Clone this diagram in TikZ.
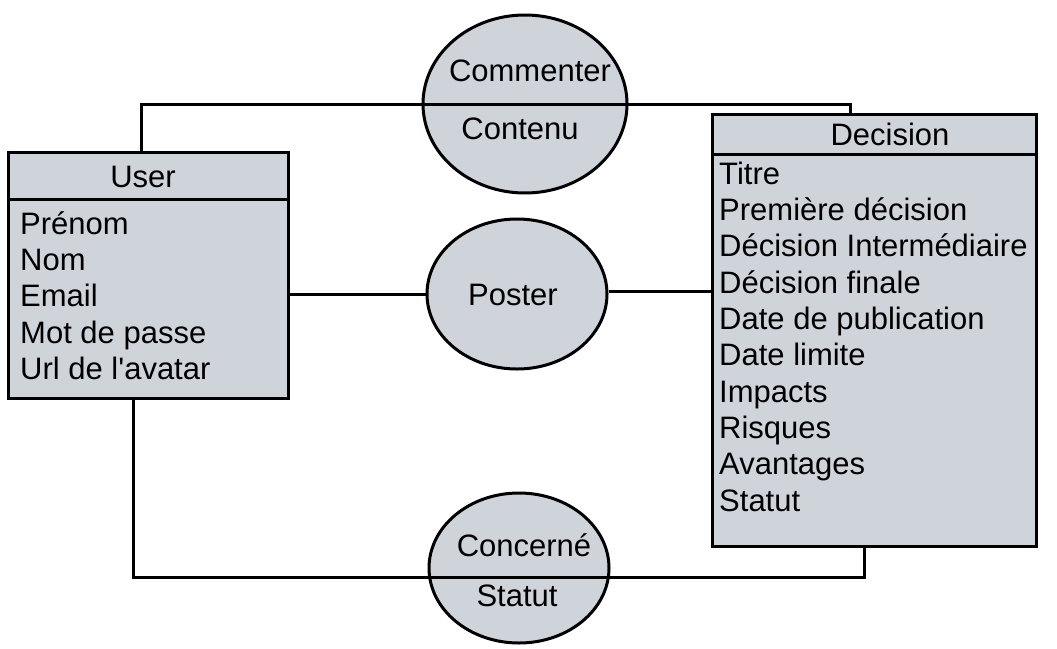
\documentclass[tikz,border=0pt]{standalone}
\usepackage{fontspec}
\setmainfont{Liberation Sans}[Ligatures=TeXOff]
\usetikzlibrary{shapes.geometric, calc}
\definecolor{boxgray}{RGB}{207,212,219}
\tikzset{entity/.style = {draw, fill=boxgray, line width=3pt, inner sep=0pt}}
\tikzset{assoc/.style = {ellipse, draw, fill=boxgray, line width=3pt, inner sep=0pt}}
\tikzset{link/.style = {line width=3pt}}
\tikzset{label/.style = {font=\fontsize{31}{36}\selectfont, inner sep=0pt}}
\tikzset{attr/.style = {label, anchor=base west}}

\begin{document}
\begin{tikzpicture}[x=1pt, y=-1pt]
\useasboundingbox (0,0) rectangle (1057,648);
% entities
\node[entity, minimum width=280pt, minimum height=246pt] (user) at (148,275) {};
\node[entity, minimum width=324pt, minimum height=432pt] (decision) at (874,330) {};
\draw[link] (8,199) -- (288,199);
\draw[link] (712,154) -- (1036,154);
\node[label, anchor=base] (usertitle) at (143,187) {User};
\node[label, anchor=base] (decisiontitle) at (890,145) {Decision};
\foreach \txt [count=\i] in {Prénom, Nom, Email, Mot de passe, Url de l'avatar}
  \node[attr] (userattr\i) at (20,{198+36.3*\i}) {\txt};
\foreach \txt [count=\i] in {Titre, Première décision, Décision Intermédiaire,
  Décision finale, Date de publication, Date limite, Impacts, Risques, Avantages, Statut}
  \node[attr] (decisionattr\i) at (719,{148+36.3*\i}) {\txt};
% associations
\node[assoc, minimum width=204pt, minimum height=178pt] (commenter) at (525,104) {};
\node[assoc, minimum width=180pt, minimum height=150pt] (poster) at (517,294) {};
\node[assoc, minimum width=180pt, minimum height=150pt] (concerne) at (519,568) {};
\node[label] (commentertxt) at (530,71) {Commenter};
\node[label] (contenutxt) at (520,129) {Contenu};
\node[label] (postertxt) at (513,295) {Poster};
\node[label] (concernetxt) at (524,545) {Concerné};
\node[label] (statuttxt) at (517,596) {Statut};
% connectors
\draw[link] ([xshift=-7pt]user.north) |- (commenter.west);
\draw[link] (commenter.west) -- (commenter.east);
\draw[link] (commenter.east) -| ([xshift=-24pt]decision.north);
\draw[link] (user.east |- poster.west) -- (poster.west);
\draw[link] ([yshift=3pt]poster.east) -- ([yshift=3pt]poster.east -| decision.west);
\draw[link] ([xshift=-15pt]user.south) |- ([yshift=-9pt]concerne.west);
\draw[link] ([yshift=-9pt]concerne.west) -- ([yshift=-9pt]concerne.east);
\draw[link] ([yshift=-9pt]concerne.east) -| ([xshift=-10pt]decision.south);
\end{tikzpicture}
\end{document}
